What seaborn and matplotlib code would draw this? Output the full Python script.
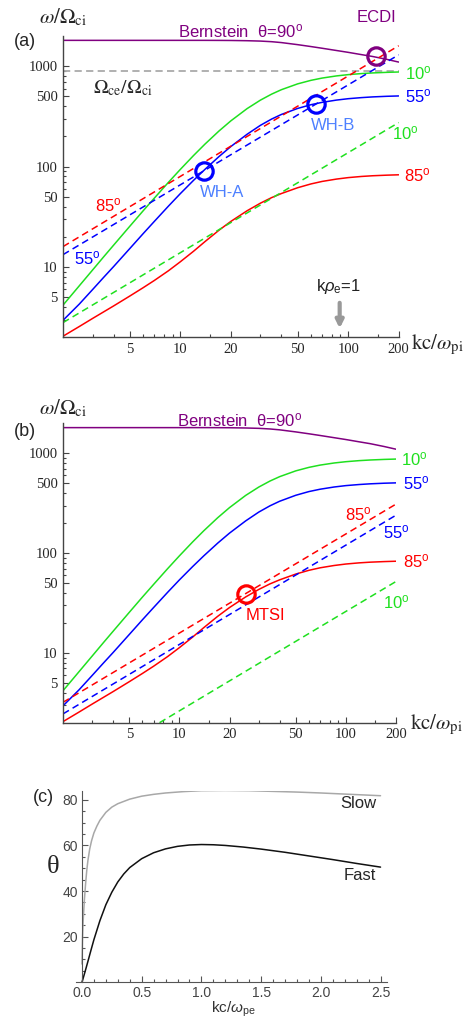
import matplotlib
matplotlib.use("Agg")
import matplotlib.pyplot as plt
import seaborn as sns
from matplotlib.ticker import NullFormatter

# ------------------------------------------------------------
# DATA
# ------------------------------------------------------------
K = [2, 2.5, 3, 3.5, 4, 5, 6, 7, 8.5, 10, 12, 14, 17, 20, 25, 30, 35, 40,
     50, 60, 70, 85, 100, 120, 140, 170, 200]
BERNSTEIN = [1810, 1810, 1810, 1810, 1810, 1810, 1810, 1810, 1810, 1810, 1810, 1810, 1808,
             1805, 1795, 1780, 1755, 1720, 1640, 1570, 1510, 1435, 1375, 1305, 1250, 1170, 1100]
W_10 = [4.18, 6.51, 9.35, 12.7, 16.5, 25.5, 36.3, 48.6, 69.9, 93.9, 129.3, 167.3, 226.6,
        285.8, 378.6, 459.6, 527.7, 583.9, 667.4, 723.6, 762.4, 800.5, 824.7, 845.0,
        857.7, 869.4, 876.3]
W_55 = [2.95, 4.28, 5.97, 7.93, 10.1, 15.3, 21.5, 28.5, 40.5, 53.9, 73.2, 93.8, 126.1,
        158.7, 210.3, 258, 298, 331, 380, 414, 437, 460, 475, 487, 495, 502, 506]
W_85 = [2.05, 2.56, 3.08, 3.59, 4.10, 5.15, 6.23, 7.36, 9.2, 11.3, 14.4, 17.9, 23.3,
        28.5, 36.4, 43.3, 49.2, 54.0, 61.7, 67.3, 71.3, 75.2, 77.8, 79.9, 81.2, 82.3, 83.0]
OMEGA_CE = 904

# dashed (straight on log-log) - panel (a)
K_DASH = [2, 200]
DASH_85_A = [16, 1600]
DASH_55_A = [13.3, 1300]
DASH_10_A = [2.8, 275]
# dashed - panel (b)
DASH_85_B = [3.2, 310]
DASH_55_B = [2.45, 240]
K_DASH_10_B = [7.6, 200]
DASH_10_B = [2.0, 52]

# marked points
ECDI = (147, 1265)
WH_A = (13.9, 90.5)
WH_B = (64, 424)
MTSI = (25.1, 39)
K_RHO_E = 89

# panel (c)
X_SLOW = [0, 0.005, 0.01, 0.02, 0.03, 0.04, 0.05, 0.065, 0.08, 0.1, 0.125, 0.15, 0.2, 0.25,
          0.3, 0.4, 0.5, 0.6, 0.7, 0.85, 1.0, 1.2, 1.4, 1.6, 1.8, 2.0, 2.25, 2.5]
TH_SLOW = [8, 20, 27, 36, 43, 49, 53.5, 58.5, 62, 65.5, 68.5, 71, 74.5, 76.8,
           78.3, 80.3, 81.6, 82.4, 83.0, 83.6, 84.0, 84.1, 84.0, 83.7, 83.4, 83.0, 82.4, 81.8]
X_FAST = [0, 0.025, 0.05, 0.075, 0.1, 0.15, 0.2, 0.25, 0.3, 0.35, 0.4, 0.5, 0.6, 0.7, 0.8,
          0.9, 1.0, 1.1, 1.2, 1.35, 1.5, 1.7, 1.9, 2.1, 2.3, 2.5]
TH_FAST = [0, 4.5, 9.2, 14, 18.7, 27, 34, 39.5, 44, 47.5, 50.3, 54.2, 56.8, 58.5, 59.6,
           60.2, 60.4, 60.3, 60.0, 59.3, 58.4, 57.0, 55.4, 53.8, 52.1, 50.5]

PURPLE, GREEN, BLUE, RED = "#800080", "#1fe01f", "#0000ff", "#ff0000"
LBLUE = "#4d80ff"

sns.set_style("ticks")
plt.rcParams["font.family"] = ["Liberation Sans", "DejaVu Sans"]
plt.rcParams["mathtext.fontset"] = "custom"
plt.rcParams["mathtext.rm"] = "Liberation Sans"
plt.rcParams["mathtext.it"] = "Liberation Sans:italic"
plt.rcParams["mathtext.sf"] = "Liberation Sans"

W, H = 470, 1021
fig = plt.figure(figsize=(W / 100, H / 100), dpi=100)


def box(l, r, t, b):
    return [l / W, 1 - b / H, (r - l) / W, (b - t) / H]


def txt(px, py, s, **kw):
    kw.setdefault("ha", "center")
    kw.setdefault("va", "center")
    fig.text(px / W, 1 - py / H, s, **kw)


def deg(n):
    return f"{n}$^{{\\mathrm{{o}}}}$"


def log_panel(ax):
    ax.set_xscale("log")
    ax.set_yscale("log")
    ax.set_xlim(2, 200)
    ax.set_ylim(2, 2000)
    for s in ["top", "right"]:
        ax.spines[s].set_visible(False)
    for s in ["left", "bottom"]:
        ax.spines[s].set_color("#444444")
        ax.spines[s].set_linewidth(1.0)
    ax.set_xticks([5, 10, 20, 50, 100, 200])
    ax.set_xticklabels(["5", "10", "20", "50", "100", "200"])
    ax.set_xticks([3, 4, 6, 7, 8, 9, 15, 30, 40, 60, 70, 80, 90, 150], minor=True)
    ax.set_yticks([5, 10, 50, 100, 500, 1000])
    ax.set_yticklabels(["5", "10", "50", "100", "500", "1000"])
    ax.set_yticks([3, 4, 6, 7, 8, 9, 20, 30, 40, 60, 70, 80, 90,
                   200, 300, 400, 600, 700, 800, 900], minor=True)
    ax.xaxis.set_minor_formatter(NullFormatter())
    ax.yaxis.set_minor_formatter(NullFormatter())
    ax.tick_params(which="both", direction="in", color="#444444", width=0.8)
    ax.tick_params(which="major", length=4.5, labelsize=10.5, pad=4)
    ax.tick_params(which="minor", length=2.5)
    for lab in ax.get_xticklabels() + ax.get_yticklabels():
        lab.set_family("Liberation Serif")
    ax.set_facecolor("white")


def curves(ax):
    sns.lineplot(x=K, y=BERNSTEIN, ax=ax, color=PURPLE, lw=1.1)
    sns.lineplot(x=K, y=W_10, ax=ax, color=GREEN, lw=1.1)
    sns.lineplot(x=K, y=W_55, ax=ax, color=BLUE, lw=1.1)
    sns.lineplot(x=K, y=W_85, ax=ax, color=RED, lw=1.1)


def circle(ax, pt, color):
    ax.plot([pt[0]], [pt[1]], "o", ms=12.5, mfc="none", mec=color, mew=2.3, zorder=5)


SERIF = dict(math_fontfamily="stix")
DASH = (0, (4.5, 2.8))

# ------------------------------------------------------------
# (a)
# ------------------------------------------------------------
axa = fig.add_axes(box(63, 398.7, 36, 337.3))
log_panel(axa)
sns.lineplot(x=K_DASH, y=[OMEGA_CE, OMEGA_CE], ax=axa, color="#aaaaaa", lw=1.3, linestyle=(0, (4, 2.4)))
curves(axa)
sns.lineplot(x=K_DASH, y=DASH_85_A, ax=axa, color=RED, lw=1.1, linestyle=DASH)
sns.lineplot(x=K_DASH, y=DASH_55_A, ax=axa, color=BLUE, lw=1.1, linestyle=DASH)
sns.lineplot(x=K_DASH, y=DASH_10_A, ax=axa, color=GREEN, lw=1.1, linestyle=DASH)
circle(axa, ECDI, PURPLE)
circle(axa, WH_A, BLUE)
circle(axa, WH_B, BLUE)
axa.annotate("", xy=(K_RHO_E, 2.3), xytext=(K_RHO_E, 4.7),
             arrowprops=dict(arrowstyle="-|>", color="#999999", lw=3, mutation_scale=11))

txt(63, 17, r"$\omega/\Omega_{\rm ci}$", fontsize=15, **SERIF)
txt(25, 42, "(a)", fontsize=13)
txt(241, 31, "Bernstein  θ=" + deg(90), fontsize=12, color=PURPLE)
txt(376, 18, "ECDI", fontsize=12, color=PURPLE)
txt(123, 88, r"$\Omega_{\rm ce}/\Omega_{\rm ci}$", fontsize=14, **SERIF)
txt(418, 73, deg(10), fontsize=12, color=GREEN)
txt(418, 96, deg(55), fontsize=12, color=BLUE)
txt(333, 125, "WH-B", fontsize=12, color=LBLUE)
txt(405, 133, deg(10), fontsize=12, color=GREEN)
txt(417, 175, deg(85), fontsize=12, color=RED)
txt(222, 192, "WH-A", fontsize=12, color=LBLUE)
txt(108, 205, deg(85), fontsize=12, color=RED)
txt(87, 258, deg(55), fontsize=12, color=BLUE)
txt(338, 287, r"k$\rho_{\rm e}$=1", fontsize=12, color="#222222")
txt(437, 345, r"$\mathrm{kc}/\omega_{\rm pi}$", fontsize=15, **SERIF)

# ------------------------------------------------------------
# (b)
# ------------------------------------------------------------
axb = fig.add_axes(box(63, 396, 423.3, 722.7))
log_panel(axb)
curves(axb)
sns.lineplot(x=K_DASH, y=DASH_85_B, ax=axb, color=RED, lw=1.1, linestyle=DASH)
sns.lineplot(x=K_DASH, y=DASH_55_B, ax=axb, color=BLUE, lw=1.1, linestyle=DASH)
sns.lineplot(x=K_DASH_10_B, y=DASH_10_B, ax=axb, color=GREEN, lw=1.1, linestyle=DASH)
circle(axb, MTSI, RED)

txt(63, 408, r"$\omega/\Omega_{\rm ci}$", fontsize=15, **SERIF)
txt(25, 432, "(b)", fontsize=13)
txt(240, 420, "Bernstein  θ=" + deg(90), fontsize=12, color=PURPLE)
txt(414, 459, deg(10), fontsize=12, color=GREEN)
txt(416, 483, deg(55), fontsize=12, color=BLUE)
txt(358, 514, deg(85), fontsize=12, color=RED)
txt(396, 532, deg(55), fontsize=12, color=BLUE)
txt(416, 561, deg(85), fontsize=12, color=RED)
txt(265, 615, "MTSI", fontsize=12, color=RED)
txt(396, 602, deg(10), fontsize=12, color=GREEN)
txt(436, 725, r"$\mathrm{kc}/\omega_{\rm pi}$", fontsize=15, **SERIF)

# ------------------------------------------------------------
# (c)
# ------------------------------------------------------------
axc = fig.add_axes(box(76, 386.5, 790.7, 982.3))
sns.lineplot(x=X_SLOW, y=TH_SLOW, ax=axc, color="#a8a8a8", lw=1.1, sort=False)
sns.lineplot(x=X_FAST, y=TH_FAST, ax=axc, color="#111111", lw=1.1, sort=False)
axc.set_xlim(-0.05, 2.55)
axc.set_ylim(0, 84)
for s in ["top", "right"]:
    axc.spines[s].set_visible(False)
axc.spines["left"].set_position(("data", 0))
for s in ["left", "bottom"]:
    axc.spines[s].set_color("#555555")
axc.set_xticks([0, 0.5, 1.0, 1.5, 2.0, 2.5])
axc.set_xticklabels(["0.0", "0.5", "1.0", "1.5", "2.0", "2.5"])
axc.set_xticks([0.1, 0.2, 0.3, 0.4, 0.6, 0.7, 0.8, 0.9, 1.1, 1.2, 1.3, 1.4,
                1.6, 1.7, 1.8, 1.9, 2.1, 2.2, 2.3, 2.4], minor=True)
axc.set_yticks([20, 40, 60, 80])
axc.set_yticks([5, 10, 15, 25, 30, 35, 45, 50, 55, 65, 70, 75], minor=True)
axc.tick_params(which="both", direction="in", color="#555555", labelcolor="#444444",
                labelsize=10, width=0.8)
axc.tick_params(which="major", length=4.5, pad=3)
axc.tick_params(which="minor", length=2.5)
axc.set_xlabel("")
axc.set_ylabel("")

txt(43, 797, "(c)", fontsize=13)
txt(53, 867, "θ", fontsize=19, family="Liberation Serif")
txt(358, 803, "Slow", fontsize=12)
txt(360, 875, "Fast", fontsize=12)
txt(233, 1009, r"kc/$\omega_{\rm pe}$", fontsize=11, color="#333333")

fig.savefig("out.png", dpi=100, facecolor="white")
